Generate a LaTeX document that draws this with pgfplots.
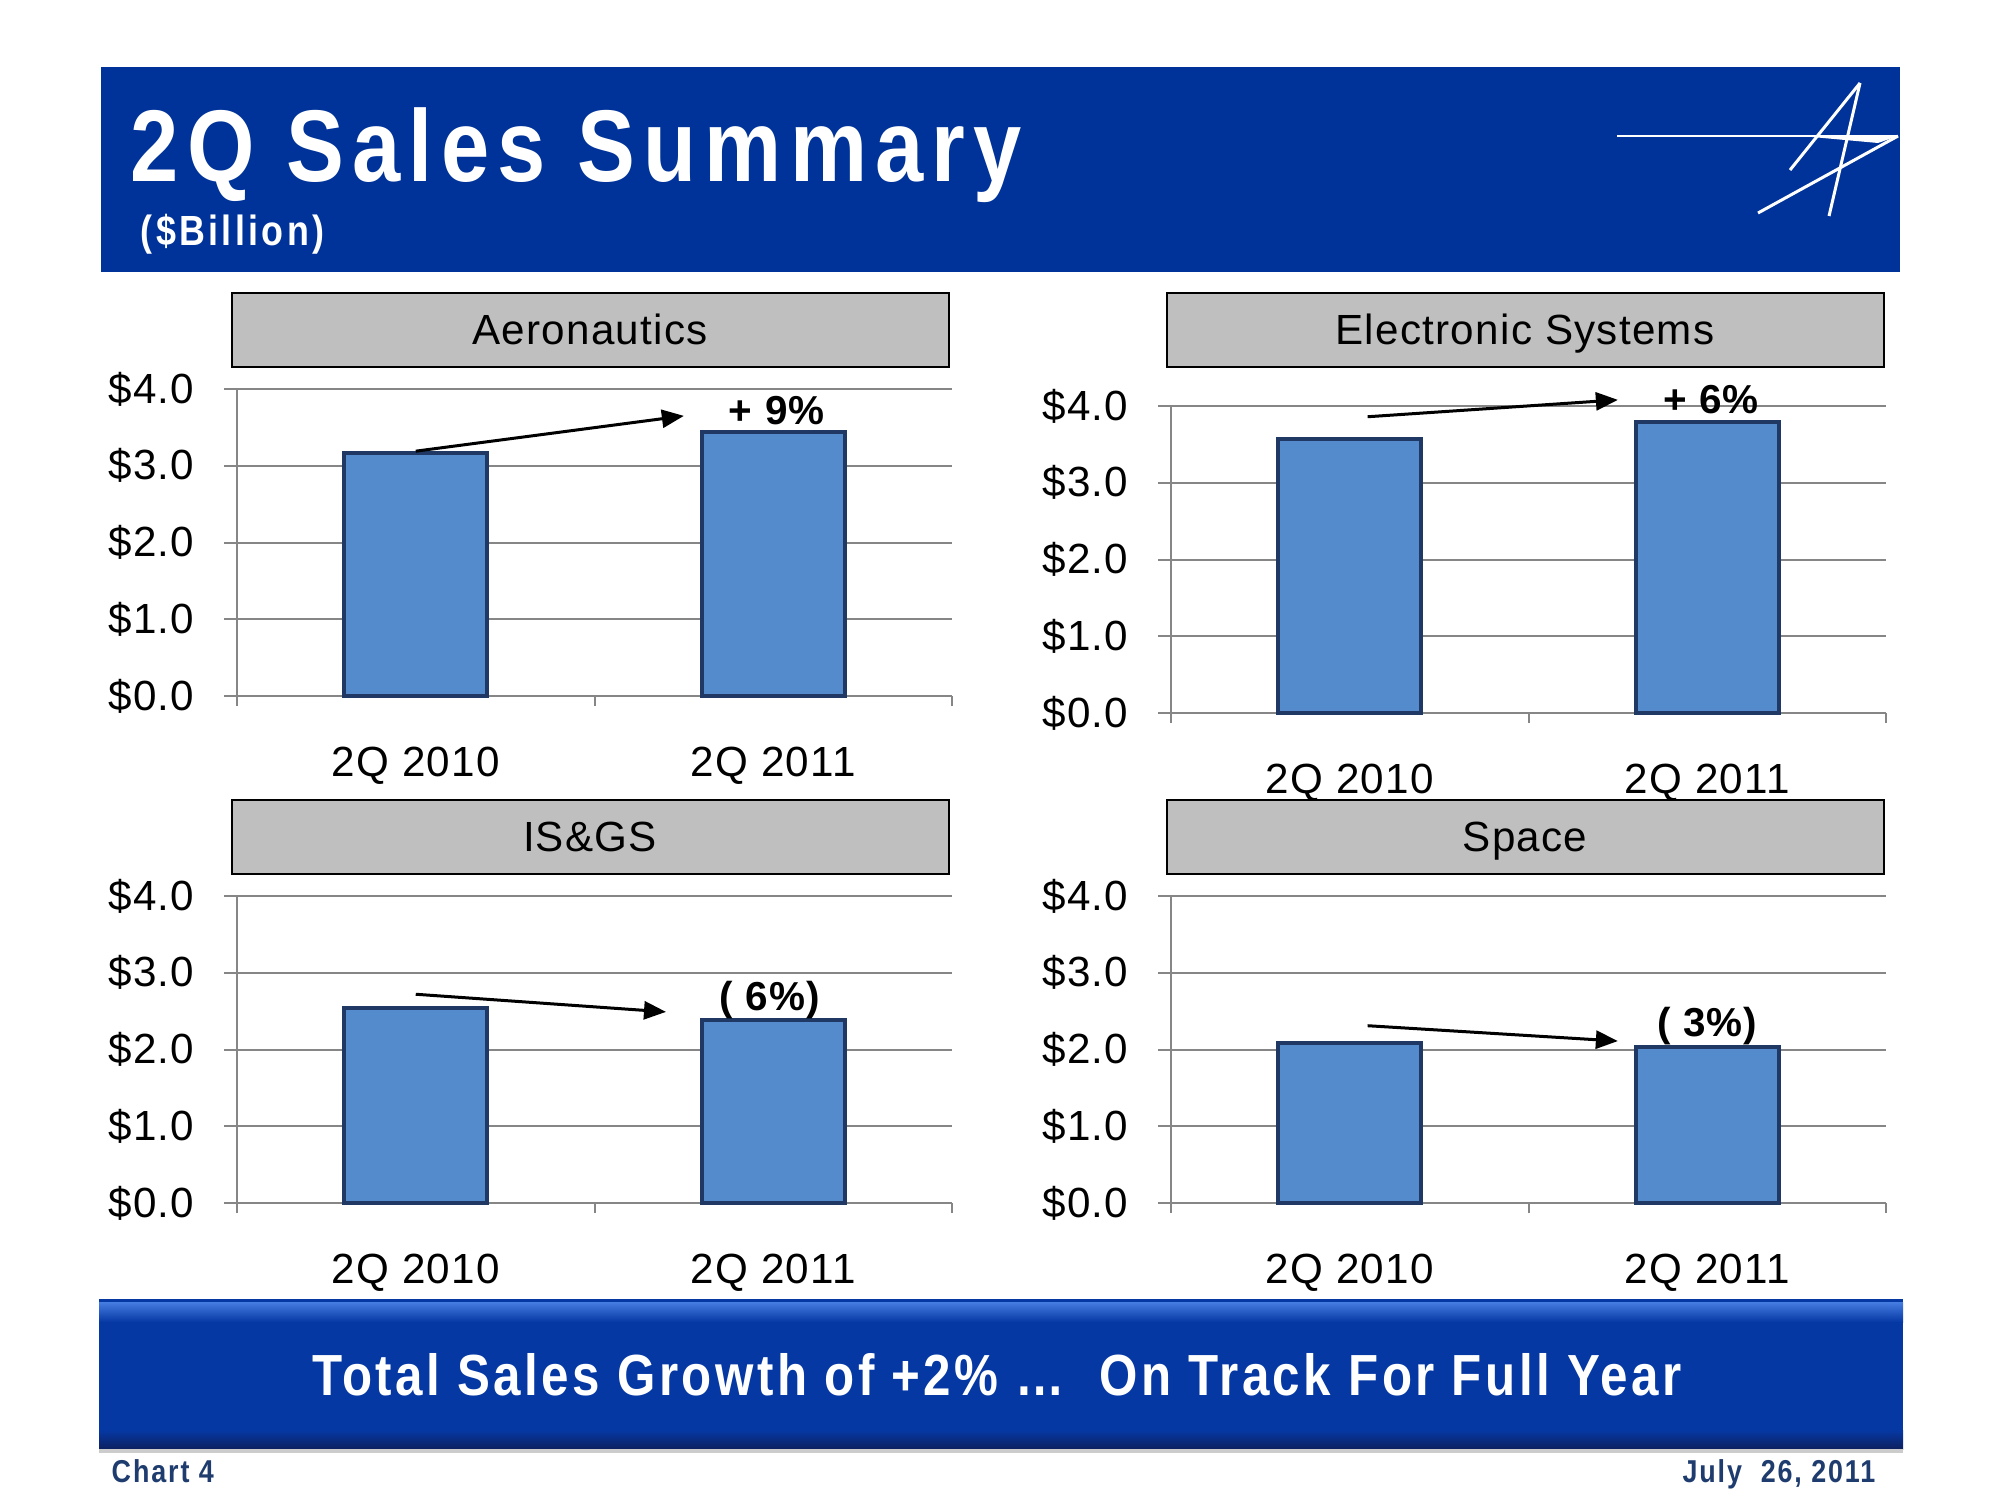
\documentclass[border=0pt]{standalone}
\usepackage{pgfplots}
\pgfplotsset{compat=1.18}
\usepackage{pgfplotstable}
\usepackage{fontspec}
\usetikzlibrary{arrows.meta}
\setmainfont{Liberation Sans}
\newfontfamily\titlefont[FakeStretch=0.85,LetterSpace=8]{Liberation Sans}
\newfontfamily\bannerfont[FakeStretch=0.85,LetterSpace=6]{Liberation Sans}
\newfontfamily\spacedfont[LetterSpace=3]{Liberation Sans}

\definecolor{lmblue}{RGB}{0,51,153}
\definecolor{bannerblue}{RGB}{6,56,164}
\definecolor{bannerlight}{RGB}{70,125,225}
\definecolor{bannerdark}{RGB}{12,32,95}
\definecolor{barfill}{RGB}{84,139,205}
\definecolor{baredge}{RGB}{31,56,100}
\definecolor{hdrgray}{RGB}{191,191,191}
\definecolor{gridgray}{RGB}{134,134,134}
\definecolor{footblue}{RGB}{31,60,110}

% sales, $ billion
\pgfplotstableread{
x y
1 3.16
2 3.44
}\aerodata
\pgfplotstableread{
x y
1 3.57
2 3.79
}\elecdata
\pgfplotstableread{
x y
1 2.54
2 2.38
}\isgsdata
\pgfplotstableread{
x y
1 2.09
2 2.03
}\spacedata

\pgfplotsset{
  panel/.style={
    scale only axis, width=71.5mm, height=30.7mm, anchor=south west,
    xmin=0.5, xmax=2.5, ymin=0, ymax=4, clip=false,
    axis x line*=bottom, axis y line*=left,
    axis line style={gridgray, line width=0.2mm},
    ytick={0,1,2,3,4}, ymajorgrids,
    grid style={gridgray, line width=0.2mm},
    xtick={1,2}, xticklabels={2Q 2010, 2Q 2011},
    minor xtick={0.5,1.5,2.5},
    tick align=outside, major tick length=1.3mm, minor tick length=1.0mm,
    major x tick style={draw=none},
    minor x tick style={gridgray, line width=0.2mm},
    y tick style={gridgray, line width=0.2mm},
    /pgf/number format/assume math mode=true,
    yticklabel={\$\pgfmathprintnumber[fixed,fixed zerofill,precision=1]{\tick}},
    yticklabel style={font=\spacedfont\fontsize{12}{14}\selectfont, anchor=east, inner sep=0pt, xshift=-2.9mm},
    xticklabel style={font=\spacedfont\fontsize{12}{14}\selectfont, anchor=north, inner sep=0pt, yshift=-3.7mm},
  },
  bars/.style={ybar, bar width=14.3mm, fill=barfill, draw=baredge, line width=0.4mm},
}
\tikzset{
  trend/.style={line width=0.3mm, -{Triangle[length=2.2mm,width=1.8mm]}},
  pct/.style={font=\spacedfont\bfseries\fontsize{11.5}{13}\selectfont},
}

\begin{document}
\begin{tikzpicture}
\path (0,0) rectangle (200mm,150mm);

\begin{scope}[x=0.1mm, y=-0.1mm, shift={(0mm,150mm)}]
  % top banner
  \fill[lmblue] (101,67) rectangle (1900,272);
  \node[anchor=base west, inner sep=0pt, text=white, font=\titlefont\bfseries\fontsize{29}{30}\selectfont] at (130,182) {2Q Sales Summary};
  \node[anchor=base west, inner sep=0pt, text=white, font=\titlefont\bfseries\fontsize{12}{14}\selectfont] at (140,246) {(\$Billion)};
  % logo
  \draw[white, line width=0.25mm] (1617,136) -- (1898,136);
  \fill[white] (1812,137) -- (1898,136) -- (1878,143) -- cycle;
  \draw[white, line width=0.3mm] (1860,83) -- (1790,170);
  \draw[white, line width=0.3mm] (1860,83) -- (1829,216);
  \draw[white, line width=0.3mm] (1898,136) -- (1758,213);
  % panel headers
  \foreach \xa/\ya/\txt in {232/293/Aeronautics, 1167/293/Electronic Systems, 232/800/IS\&GS, 1167/800/Space} {
    \filldraw[fill=hdrgray, draw=black, line width=0.2mm] (\xa,\ya) rectangle ++(717,74);
    \node[anchor=base, inner sep=0pt, font=\spacedfont\fontsize{12}{14}\selectfont] at (\xa+358,\ya+51) {\txt};
  }
  % bottom banner
  \fill[bannerblue] (99,1299) rectangle (1903,1449);
  \shade[top color=bannerlight, bottom color=bannerblue] (99,1302) rectangle (1903,1322);
  \shade[top color=bannerblue, bottom color=bannerdark] (99,1430) rectangle (1903,1449);
  \fill[gray!40] (99,1449) rectangle (1903,1453);
  \node[anchor=base, inner sep=0pt, text=white, font=\bannerfont\bfseries\fontsize{16.5}{18}\selectfont] at (997,1395) {Total Sales Growth of +2\% \ldots\ \ On Track For Full Year};
  % footer
  \node[anchor=base west, inner sep=0pt, text=footblue, font=\bannerfont\bfseries\fontsize{9}{11}\selectfont] at (111,1482) {Chart 4};
  \node[anchor=base east, inner sep=0pt, text=footblue, font=\bannerfont\bfseries\fontsize{9}{11}\selectfont] at (1876,1482) {July \ 26, 2011};
\end{scope}

\begin{axis}[panel, at={(23.7mm,80.4mm)}]
  \addplot[bars] table {\aerodata};
  \draw[trend] (axis cs:1.0,3.19) -- (axis cs:1.75,3.65);
  \node[pct] at (axis cs:2.01,3.72) {+ 9\%};
\end{axis}

\begin{axis}[panel, at={(117.1mm,78.7mm)}]
  \addplot[bars] table {\elecdata};
  \draw[trend] (axis cs:1.05,3.86) -- (axis cs:1.75,4.08);
  \node[pct] at (axis cs:2.01,4.08) {+ 6\%};
\end{axis}

\begin{axis}[panel, at={(23.7mm,29.7mm)}]
  \addplot[bars] table {\isgsdata};
  \draw[trend] (axis cs:1.0,2.72) -- (axis cs:1.70,2.49);
  \node[pct] at (axis cs:1.99,2.65) {( 6\%)};
\end{axis}

\begin{axis}[panel, at={(117.1mm,29.7mm)}]
  \addplot[bars] table {\spacedata};
  \draw[trend] (axis cs:1.05,2.31) -- (axis cs:1.75,2.11);
  \node[pct] at (axis cs:2.0,2.31) {( 3\%)};
\end{axis}

\pgfresetboundingbox
\path (0,0) rectangle (200mm,150mm);
\end{tikzpicture}
\end{document}
